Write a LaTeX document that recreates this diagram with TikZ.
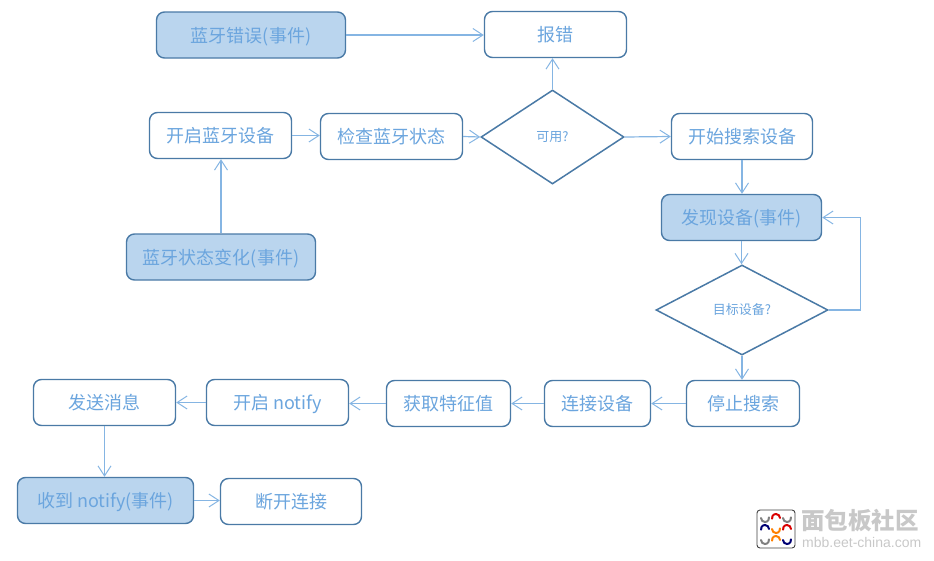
\documentclass[tikz,border=0pt]{standalone}
\usepackage{fontspec}
\setmainfont{Noto Sans CJK SC}[Scale=1]
\newfontfamily\latinfont{Liberation Sans}
\usetikzlibrary{arrows.meta,shapes.geometric,calc}
\definecolor{edgeblue}{HTML}{4A7AA6}
\definecolor{inkblue}{HTML}{6BA5DE}
\definecolor{wireblue}{HTML}{85B5E3}
\definecolor{eventfill}{HTML}{BAD5EE}
\definecolor{logogray}{HTML}{C8C8C8}
\tikzset{
  x=1pt,y=-1pt,
  procbox/.style={draw=edgeblue,line width=1.4pt,rounded corners=8pt,fill=white,
    text=inkblue,font=\fontsize{18}{20}\selectfont,inner sep=0pt,
    text height=14pt,text depth=0pt,
    minimum width=#1-1pt,minimum height=46pt},
  eventbox/.style={procbox=#1,fill=eventfill},
  choice/.style={draw=edgeblue,line width=1.5pt,diamond,aspect=1.6,fill=white,
    text=inkblue,font=\fontsize{13}{15}\selectfont,inner sep=0pt},
  wire/.style={draw=wireblue,line width=1.2pt,-{Straight Barb[length=10pt,width=13pt,line width=1pt]}},
  brandmark/.style={line width=2pt,line cap=round}
}
\begin{document}
\begin{tikzpicture}
\useasboundingbox (0,0) rectangle (934,560);

% first row of events and the error target
\node[eventbox=190pt] (btError) at (251,35) {蓝牙错误(事件)};
\node[procbox=143pt] (report) at (555.5,34.5) {报错};

% adapter start-up row
\node[procbox=143pt] (openBt) at (220.5,135.5) {开启蓝牙设备};
\node[procbox=143pt] (checkBt) at (391.5,136.5) {检查蓝牙状态};
\node[choice,minimum width=143pt,minimum height=94pt] (usable) at (552.5,137) {可用?};
\node[procbox=142pt] (startScan) at (742,136.5) {开始搜索设备};
\node[eventbox=190pt] (btState) at (221,257) {蓝牙状态变化(事件)};

% scanning column
\node[eventbox=161pt] (found) at (741.5,217.5) {发现设备(事件)};
\node[choice,minimum width=172pt,minimum height=90pt] (target) at (742,310) {目标设备?};
\node[procbox=114pt] (stopScan) at (743,403.5) {停止搜索};

% connection row, running right to left
\node[procbox=107pt] (connect) at (597.5,403.5) {连接设备};
\node[procbox=125pt] (getChar) at (448.5,403.5) {获取特征值};
\node[procbox=143pt] (notifyOn) at (277.5,402.5) {开启 notify};
\node[procbox=143pt] (sendMsg) at (104.5,402.5) {发送消息};

% last row
\node[eventbox=177pt] (gotNotify) at (105.5,500.5) {收到 notify(事件)};
\node[procbox=142pt] (disconnect) at (291,501.5) {断开连接};

% connectors
\draw[wire] (btError.east) -- (report.west |- btError.east);
\draw[wire] (usable.north) -- (report.south -| usable.north);
\draw[wire] (openBt.east) -- (checkBt.west |- openBt.east);
\draw[wire] (checkBt.east) -- (usable.west);
\draw[wire] (usable.east) -- (startScan.west);
\draw[wire] (btState.north) -- (openBt.south -| btState.north);
\draw[wire] (startScan.south) -- (found.north -| startScan.south);
\draw[wire] (found.south) -- (target.north -| found.south);
\draw[wire] (target.east) -- ++(32,0) |- (found.east);
\draw[wire] (target.south) -- (stopScan.north -| target.south);
\draw[wire] (stopScan.west) -- (connect.east);
\draw[wire] (connect.west) -- (getChar.east);
\draw[wire] (getChar.west) -- (notifyOn.east |- getChar.west);
\draw[wire] (notifyOn.west) -- (sendMsg.east);
\draw[wire] (sendMsg.south) -- (gotNotify.north -| sendMsg.south);
\draw[wire] (gotNotify.east) -- (disconnect.west |- gotNotify.east);

% publisher's badge, lower right
\node[draw=black!75,line width=0.9pt,fill=white,rounded corners=3pt,minimum size=38pt,inner sep=0pt] (badge) at (776,529) {};
\begin{scope}[shift={(776,529)}]
  \foreach \cx/\cy/\a/\tint in {-11/-11/180/gray,0/-11/0/red!85!black,11/-11/180/gray,
                               -11/0/0/blue!45!black,0/0/180/orange,11/0/0/red!85!black,
                               -11/11/180/gray,0/11/0/orange,11/11/180/blue!45!black}
    \draw[brandmark,draw=\tint] (\cx,\cy) ++(\a:4) arc[start angle=\a,delta angle=-190,radius=4];
\end{scope}
\node[text=logogray,font=\fontsize{23.5}{25}\selectfont\bfseries,anchor=west,inner sep=0pt] (brandName) at (801,521) {面包板社区};
\node[text=logogray,font=\fontsize{14}{16}\latinfont,anchor=west,inner sep=0pt] (brandUrl) at (802,542) {mbb.eet-china.com};
\end{tikzpicture}
\end{document}
